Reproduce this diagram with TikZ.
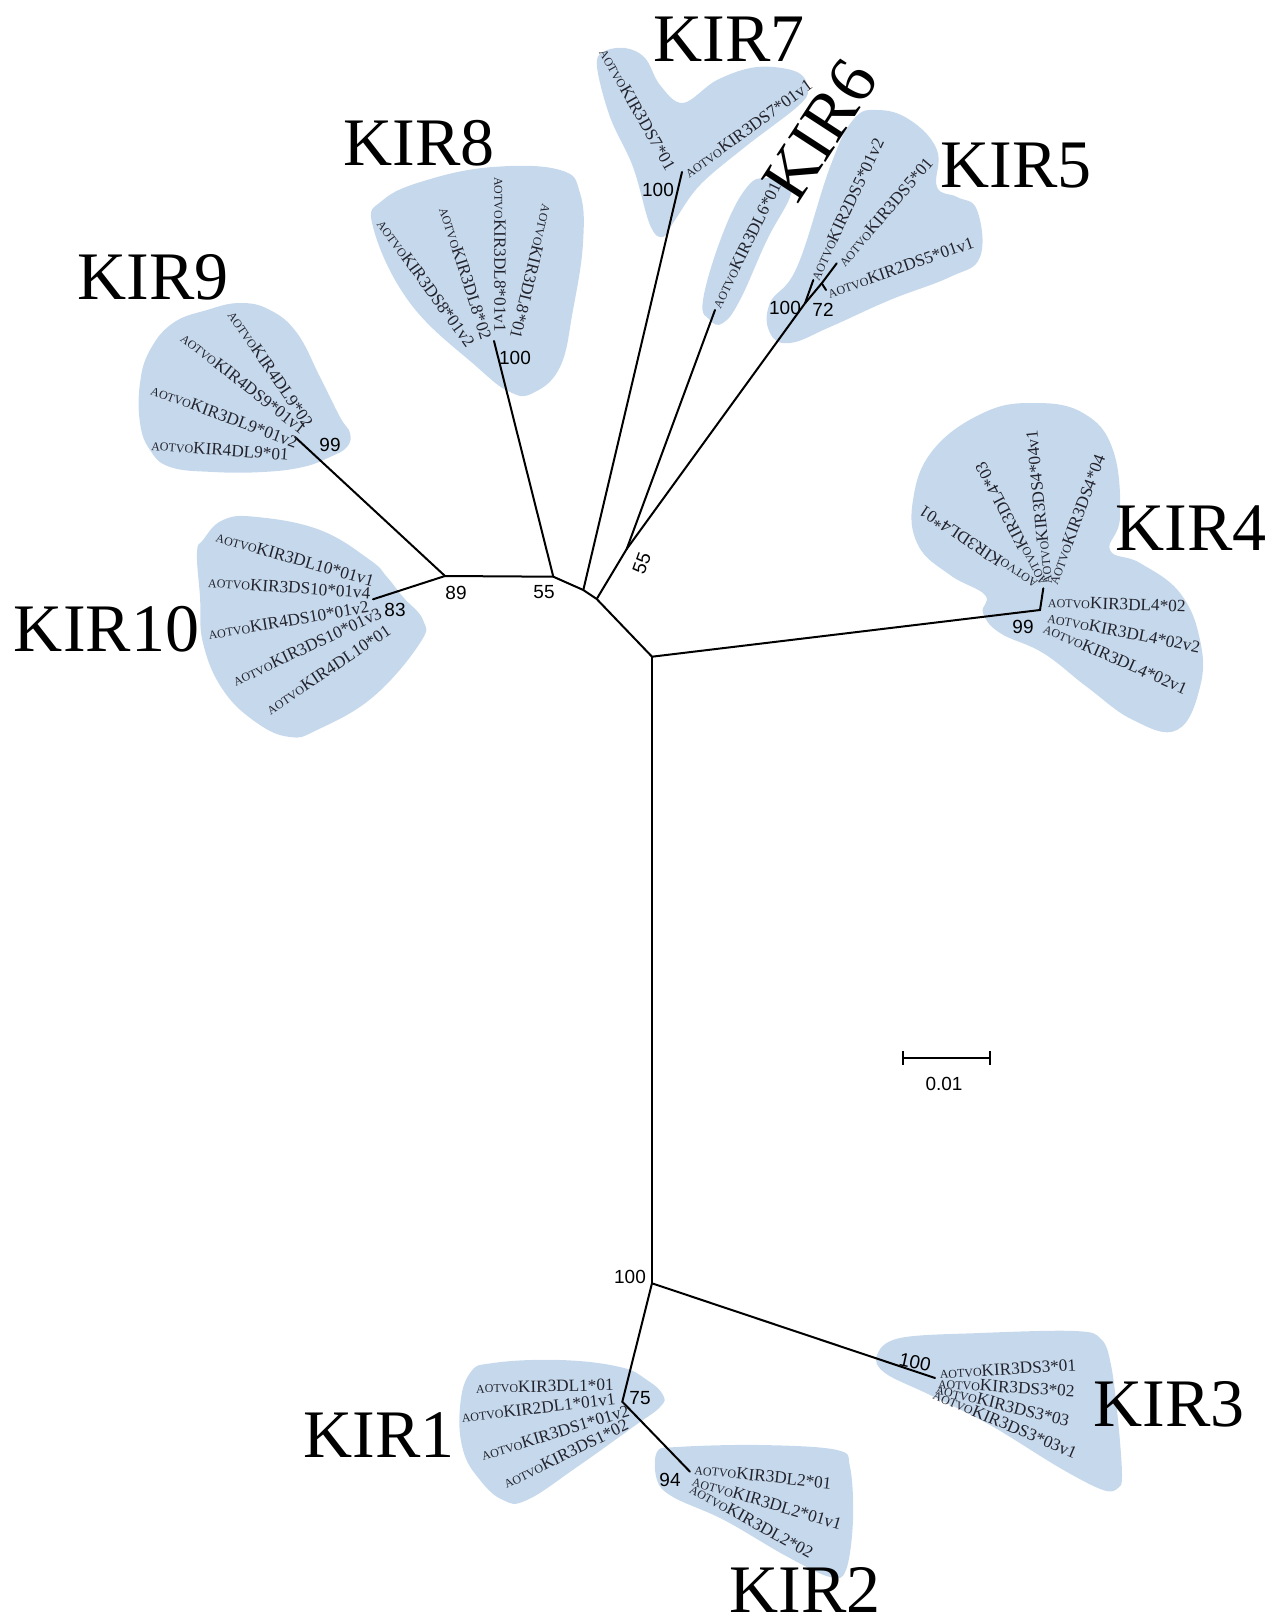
\documentclass[tikz,border=0pt]{standalone}
\usepackage{fontspec}
\setmainfont{Liberation Serif}
\setsansfont{Liberation Sans}
\definecolor{hull}{RGB}{198,217,236}
\definecolor{txt}{RGB}{35,35,45}
\newcommand\aot{{\fontsize{6}{6}\selectfont AOTVO}}
\tikzset{
 tax/.style={font=\fontsize{8.6}{9}\selectfont, text=txt, inner sep=0.5pt},
 boot/.style={font=\sffamily\fontsize{9.5}{10}\selectfont, inner sep=0pt},
 big/.style={font=\fontsize{34}{36}\selectfont, inner sep=0pt},
 br/.style={line width=1pt, line cap=round},
 hullfill/.style={fill=hull, draw=none},
}
\begin{document}
\begin{tikzpicture}[x=0.5pt, y=-0.5pt]
\useasboundingbox (0,0) rectangle (1281,1621);
% ---------- hulls ----------
\fill[hullfill] plot[smooth cycle, tension=0.7] coordinates {(150,350) (173,323) (207,310) (240,303) (270,310) (297,333) (320,377) (340,417) (350,433) (347,447) (330,457) (303,467) (263,472) (213,472) (170,467) (150,450) (140,423) (140,383)};
\fill[hullfill] plot[smooth cycle, tension=0.7] coordinates {(203,540) (223,520) (257,517) (320,530) (370,560) (387,577) (403,597) (423,620) (420,643) (373,697) (317,730) (290,737) (257,723) (223,690) (203,643) (200,597) (197,553)};
\fill[hullfill] plot[smooth cycle, tension=0.7] coordinates {(373,227) (383,200) (427,180) (493,167) (560,170) (580,193) (583,243) (573,310) (560,367) (533,393) (510,392) (477,367) (410,303)};
\fill[hullfill] plot[smooth cycle, tension=0.6] coordinates {(597,67) (603,52) (625,48) (645,58) (660,85) (683,103) (717,80) (757,67) (797,72) (808,90) (797,107) (745,147) (700,185) (675,220) (663,237) (650,225) (633,167) (610,117)};
\fill[hullfill] plot[smooth cycle, tension=0.7] coordinates {(710,320) (703,300) (723,233) (747,187) (767,178) (787,183) (790,197) (767,240) (740,300) (723,323)};
\fill[hullfill] plot[smooth cycle, tension=0.7] coordinates {(770,333) (770,303) (797,267) (830,167) (853,120) (877,110) (910,120) (937,150) (937,187) (957,197) (977,210) (980,257) (950,277) (890,300) (830,327) (790,343)};
\fill[hullfill] plot[smooth cycle, tension=0.7] coordinates {(913,500) (933,450) (983,413) (1033,403) (1083,413) (1113,450) (1120,517) (1110,550) (1140,563) (1180,593) (1200,640) (1200,687) (1177,730) (1133,720) (1087,687) (1043,653) (1000,633) (983,613) (985,595) (950,575) (918,545)};
\fill[hullfill] plot[smooth cycle, tension=0.6] coordinates {(877,1355) (900,1338) (980,1333) (1075,1331) (1101,1339) (1111,1365) (1118,1420) (1122,1475) (1118,1488) (1103,1490) (1060,1468) (990,1425) (930,1395) (885,1373)};
\fill[hullfill] plot[smooth cycle, tension=0.7] coordinates {(470,1373) (493,1363) (560,1360) (620,1367) (647,1380) (663,1395) (660,1407) (633,1427) (577,1467) (527,1500) (503,1500) (480,1480) (463,1450) (460,1407)};
\fill[hullfill] plot[smooth cycle, tension=0.6] coordinates {(657,1452) (677,1447) (760,1445) (837,1450) (850,1467) (853,1520) (846,1570) (830,1577) (786,1556) (724,1520) (673,1497) (657,1480)};
% ---------- tree nodes ----------
\coordinate (T) at (652,656.7);
\coordinate (Bt) at (652,1283.3);
\coordinate (B) at (596.7,599);
\coordinate (A) at (583.3,590);
\coordinate (L55) at (553.3,576.7);
\coordinate (N89) at (445,576);
\coordinate (N9) at (295,437);
\coordinate (N10) at (373,599.3);
\coordinate (N8) at (494,341);
\coordinate (N7) at (682,172);
\coordinate (N55) at (626.7,549);
\coordinate (L6) at (715,310);
\coordinate (N5) at (805,303.3);
\coordinate (L5a) at (813.3,280);
\coordinate (N72) at (821.7,283.3);
\coordinate (L5b) at (836.7,263.3);
\coordinate (L5c) at (826,290);
\coordinate (N4) at (1040,610);
\coordinate (N4u) at (1043.3,588.3);
\coordinate (N3) at (935,1378);
\coordinate (N1) at (622.3,1401.7);
\coordinate (N2) at (690,1471.7);
\draw[br] (T) -- (Bt);
\draw[br] (T) -- (B) -- (A) -- (L55) -- (N89) -- (N9);
\draw[br] (N89) -- (N10);
\draw[br] (L55) -- (N8);
\draw[br] (A) -- (N7);
\draw[br] (B) -- (N55) -- (L6);
\draw[br] (N55) -- (N5) -- (L5a);
\draw[br] (N5) -- (N72) -- (L5b);
\draw[br] (N72) -- (L5c);
\draw[br] (T) -- (N4) -- (N4u);
\draw[br] (Bt) -- (N3);
\draw[br] (Bt) -- (N1) -- (N2);
% ---------- bootstrap values ----------
\node[boot] (b99a) at (330,445) {99};
\node[boot] (b83) at (395,610) {83};
\node[boot] (b89) at (456,593) {89};
\node[boot] (b55a) at (544,592) {55};
\node[boot] (b100a) at (515,358) {100};
\node[boot] (b100b) at (658,190) {100};
\node[boot, rotate=70] (b55b) at (641.7,563.3) {55};
\node[boot] (b100c) at (785,308) {100};
\node[boot] (b72) at (823,310) {72};
\node[boot] (b99b) at (1023,627) {99};
\node[boot] (b100d) at (630,1277) {100};
\node[boot, rotate=-12] (b100e) at (915,1362) {100};
\node[boot] (b75) at (640,1398) {75};
\node[boot] (b94) at (670,1480) {94};
% ---------- taxa ----------
% KIR9
\node[tax, anchor=east, rotate=-55.7] (t9a) at (310,426.7) {\aot KIR4DL9*02};
\node[tax, anchor=east, rotate=-38.2] (t9b) at (305,431.7) {\aot KIR4DS9*01v1};
\node[tax, anchor=east, rotate=-20.3] (t9c) at (298.3,443.3) {\aot KIR3DL9*01v2};
\node[tax, anchor=east, rotate=-4.3] (t9d) at (290,455) {\aot KIR4DL9*01};
% KIR10
\node[tax, anchor=east, rotate=-16] (t10a) at (375,581.7) {\aot KIR3DL10*01v1};
\node[tax, anchor=east, rotate=-4.1] (t10b) at (371.7,593.3) {\aot KIR3DS10*01v4};
\node[tax, anchor=east, rotate=9.6] (t10c) at (370,606.7) {\aot KIR4DS10*01v2};
\node[tax, anchor=east, rotate=25.2] (t10d) at (381.7,611.7) {\aot KIR3DS10*01v3};
\node[tax, anchor=east, rotate=33.9] (t10e) at (390,628.3) {\aot KIR4DL10*01};
% KIR8
\node[tax, anchor=east, rotate=-54.2] (t8a) at (471.7,346.7) {\aot KIR3DS8*01v2};
\node[tax, anchor=east, rotate=-72.2] (t8b) at (486.7,340) {\aot KIR3DL8*02};
\node[tax, anchor=east, rotate=-90] (t8c) at (500,333.3) {\aot KIR3DL8*01v1};
\node[tax, anchor=east, rotate=-103.7] (t8d) at (515,340) {\aot KIR3DL8*01};
% KIR7
\node[tax, anchor=east, rotate=-60.5] (t7a) at (671.7,170) {\aot KIR3DS7*01};
\node[tax, anchor=west, rotate=36.2] (t7b) at (685,175) {\aot KIR3DS7*01v1};
% KIR6
\node[tax, anchor=west, rotate=63.8] (t6a) at (715,308) {\aot KIR3DL6*01};
% KIR5
\node[tax, anchor=west, rotate=64.8] (t5a) at (813.3,280) {\aot KIR2DS5*01v2};
\node[tax, anchor=west, rotate=49.5] (t5b) at (840,265) {\aot KIR3DS5*01};
\node[tax, anchor=west, rotate=19.3] (t5c) at (826.7,293.3) {\aot KIR2DS5*01v1};
% KIR4
\node[tax, anchor=west, rotate=146.3] (t4a) at (1036.7,586.7) {\aot KIR3DL4*01};
\node[tax, anchor=west, rotate=117.2] (t4b) at (1043.3,586.7) {\aot KIR3DL4*03};
\node[tax, anchor=west, rotate=95.6] (t4c) at (1046.7,585) {\aot KIR3DS4*04v1};
\node[tax, anchor=west, rotate=69.4] (t4d) at (1051.7,585) {\aot KIR3DS4*04};
\node[tax, anchor=west, rotate=-2] (t4e) at (1046.7,601.7) {\aot KIR3DL4*02};
\node[tax, anchor=west, rotate=-11.3] (t4f) at (1046.7,616.7) {\aot KIR3DL4*02v2};
\node[tax, anchor=west, rotate=-23.8] (t4g) at (1043.3,626.7) {\aot KIR3DL4*02v1};
% KIR3
\node[tax, anchor=west, rotate=3.5] (t3a) at (938.3,1373.3) {\aot KIR3DS3*01};
\node[tax, anchor=west, rotate=-3.5] (t3b) at (936.7,1382.7) {\aot KIR3DS3*02};
\node[tax, anchor=west, rotate=-14] (t3c) at (935,1388) {\aot KIR3DS3*03};
\node[tax, anchor=west, rotate=-23] (t3d) at (933,1393) {\aot KIR3DS3*03v1};
% KIR1
\node[tax, anchor=east, rotate=1] (t1a) at (615,1385) {\aot KIR3DL1*01};
\node[tax, anchor=east, rotate=6.9] (t1b) at (616.7,1398.3) {\aot KIR2DL1*01v1};
\node[tax, anchor=east, rotate=17] (t1c) at (630,1410) {\aot KIR3DS1*01v2};
\node[tax, anchor=east, rotate=26] (t1d) at (628.3,1423.3) {\aot KIR3DS1*02};
% KIR2
\node[tax, anchor=west, rotate=-6.3] (t2a) at (693.3,1468.3) {\aot KIR3DL2*01};
\node[tax, anchor=west, rotate=-16.6] (t2b) at (691.7,1480) {\aot KIR3DL2*01v1};
\node[tax, anchor=west, rotate=-28.8] (t2c) at (690,1487) {\aot KIR3DL2*02};
% ---------- group labels ----------
\node[big] (g7) at (729,39) {KIR7};
\node[big] (g8) at (419,143) {KIR8};
\node[big] (g9) at (153,277) {KIR9};
\node[big] (g10) at (106.5,629) {KIR10};
\node[big, rotate=57] (g6) at (820,130) {KIR6};
\node[big] (g5) at (1016,166) {KIR5};
\node[big] (g4) at (1191,528) {KIR4};
\node[big] (g3) at (1169,1404) {KIR3};
\node[big] (g1) at (379,1435) {KIR1};
\node[big] (g2) at (805,1590) {KIR2};
% ---------- scale bar ----------
\coordinate (s1) at (902.6,1057.7);
\coordinate (s2) at (989.5,1057.7);
\draw[line width=1pt] (s1) -- (s2);
\draw[line width=1pt] ([yshift=-3.5pt]s1) -- ([yshift=3.5pt]s1);
\draw[line width=1pt] ([yshift=-3.5pt]s2) -- ([yshift=3.5pt]s2);
\node[boot] (sl) at (944,1084) {0.01};
\end{tikzpicture}
\end{document}
